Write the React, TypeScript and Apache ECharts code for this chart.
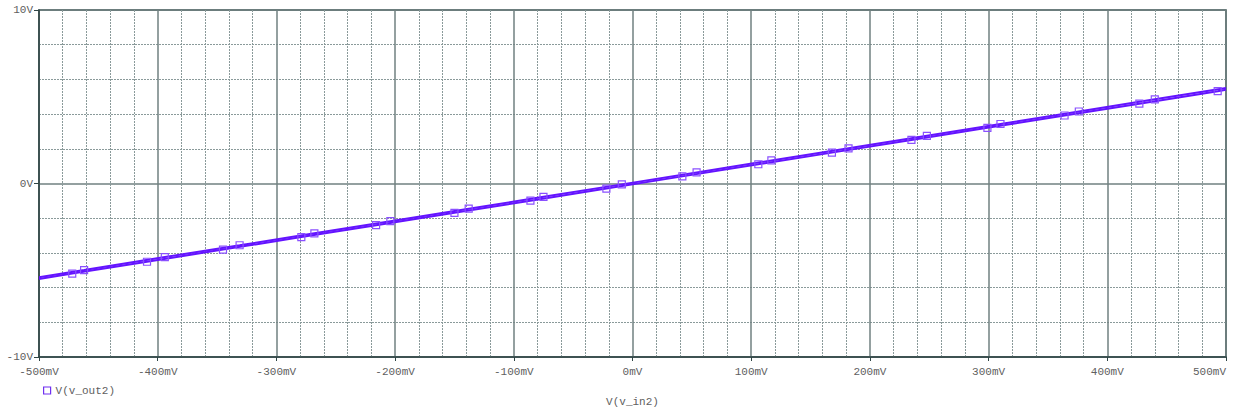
import React, { useEffect, useRef } from "react";
import * as echarts from "echarts";

// Input sweep points (V) and output values (V)
const lowerX = [-0.5, -0.472, -0.409, -0.345, -0.279, -0.216, -0.15, -0.086, -0.022, 0.042, 0.106, 0.168, 0.235, 0.299, 0.364, 0.427, 0.493, 0.5];
const lowerY = [-5.5, -5.19, -4.51, -3.81, -3.09, -2.4, -1.69, -0.99, -0.29, 0.41, 1.11, 1.78, 2.51, 3.21, 3.92, 4.6, 5.32, 5.4];
const upperX = [-0.5, -0.462, -0.394, -0.331, -0.268, -0.204, -0.138, -0.075, -0.009, 0.054, 0.117, 0.182, 0.248, 0.31, 0.376, 0.44, 0.5];
const upperY = [-5.4, -4.99, -4.24, -3.56, -2.87, -2.17, -1.45, -0.77, -0.05, 0.64, 1.33, 2.03, 2.75, 3.43, 4.15, 4.85, 5.5];

const seriesName = "V(v_out2)";
const xTitle = "V(v_in2)";

const LINE = "#6414ff";
const MARK = "#8a50ff";
const FONT = "Liberation Mono";

function toData(xs: number[], ys: number[]) {
  return xs.map((x, i) => {
    const item: any = { value: [x, ys[i]] };
    if (i === 0 || i === xs.length - 1) item.symbol = "none";
    return item;
  });
}

export default function App() {
  const ref = useRef<HTMLDivElement>(null);
  useEffect(() => {
    if (!ref.current) return;
    const chart = echarts.init(ref.current, undefined, { renderer: "svg" });
    const common = {
      type: "line",
      name: seriesName,
      showAllSymbol: true,
      symbol: "rect",
      symbolSize: 7,
      lineStyle: { color: LINE, width: 2 },
      itemStyle: { color: "rgba(255,255,255,0)", borderColor: MARK, borderWidth: 1.2 },
      z: 5,
    };
    chart.setOption({
      animation: false,
      backgroundColor: "#ffffff",
      grid: {
        left: 39,
        right: 8,
        top: 10,
        bottom: 57,
        outerBoundsMode: "none",
        containLabel: false,
        show: true,
        borderColor: "#2f4545",
        borderWidth: 1.5,
        backgroundColor: "transparent",
      },
      legend: {
        show: true,
        left: 38,
        top: 380,
        itemWidth: 7,
        itemHeight: 7,
        itemGap: 4,
        icon: "rect",
        textStyle: { fontFamily: FONT, fontSize: 11, color: "#606060" },
        itemStyle: { color: "#ffffff", borderColor: "#7030f0", borderWidth: 1.2 },
        data: [seriesName],
      },
      xAxis: {
        type: "value",
        min: -0.5,
        max: 0.5,
        interval: 0.1,
        name: xTitle,
        nameLocation: "middle",
        nameGap: 39,
        nameTextStyle: { fontFamily: FONT, fontSize: 11, color: "#606060" },
        axisLine: { show: true, onZero: false, lineStyle: { color: "#2f4545", width: 1.5 } },
        axisTick: { show: true, length: 4, lineStyle: { color: "#2f4545" } },
        axisLabel: {
          fontFamily: FONT,
          fontSize: 11,
          color: "#606060",
          margin: 9,
          alignMaxLabel: "right",
          formatter: (v: number) => `${Math.round(v * 1000)}mV`,
        },
        splitLine: { show: true, lineStyle: { color: "#708080", width: 1.5 } },
        minorTick: { show: false, splitNumber: 5 },
        minorSplitLine: { show: true, lineStyle: { color: "#8a9a9a", type: [2, 1], width: 1 } },
      },
      yAxis: {
        type: "value",
        min: -10,
        max: 10,
        interval: 10,
        axisLine: { show: true, onZero: false, lineStyle: { color: "#2f4545", width: 1.5 } },
        axisTick: { show: true, length: 5, lineStyle: { color: "#2f4545" } },
        axisLabel: {
          fontFamily: FONT,
          fontSize: 11,
          color: "#606060",
          margin: 6,
          formatter: (v: number) => `${v}V`,
        },
        splitLine: { show: true, lineStyle: { color: "#708080", width: 1.5 } },
        minorTick: { show: false, splitNumber: 5 },
        minorSplitLine: { show: true, lineStyle: { color: "#8a9a9a", type: [2, 1], width: 1 } },
      },
      series: [
        { ...common, data: toData(lowerX, lowerY) },
        { ...common, data: toData(upperX, upperY) },
      ],
    });
    return () => chart.dispose();
  }, []);
  return (
    <div
      ref={ref}
      style={{ position: "fixed", left: 0, top: 0, width: 1234, height: 414 }}
    />
  );
}
